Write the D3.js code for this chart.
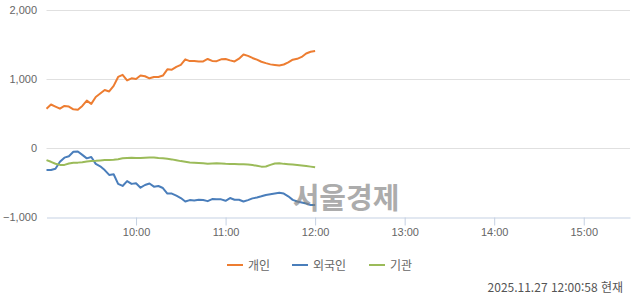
<!DOCTYPE html>
<html lang="ko">
<head>
<meta charset="UTF-8">
<title>투자자별 매매동향</title>
<style>
  body { margin: 0; background: #fff; }
  text { font-family: "Liberation Sans", "Noto Sans CJK KR", sans-serif; }
</style>
</head>
<body>
<div id="chart"></div>
<script src="https://d3js.org/d3.v7.min.js"></script>
<script>
// minutes since 09:00, sampled every 3 minutes up to 12:00
var times = ["09:00","09:03","09:06","09:09","09:12","09:15","09:18","09:21","09:24","09:27",
  "09:30","09:33","09:36","09:39","09:42","09:45","09:48","09:51","09:54","09:57",
  "10:00","10:03","10:06","10:09","10:12","10:15","10:18","10:21","10:24","10:27",
  "10:30","10:33","10:36","10:39","10:42","10:45","10:48","10:51","10:54","10:57",
  "11:00","11:03","11:06","11:09","11:12","11:15","11:18","11:21","11:24","11:27",
  "11:30","11:33","11:36","11:39","11:42","11:45","11:48","11:51","11:54","11:57","12:00"];

var individual = [570,630,600,570,610,600,560,555,610,686,
  640,740,790,840,820,900,1030,1060,980,1010,
  1000,1050,1040,1010,1030,1030,1050,1140,1135,1175,
  1205,1285,1260,1262,1255,1255,1290,1262,1258,1285,
  1290,1270,1255,1295,1355,1335,1305,1280,1250,1230,
  1212,1203,1195,1210,1240,1280,1292,1320,1370,1395,1405];

var foreign = [-320,-320,-300,-200,-140,-120,-55,-50,-100,-150,
  -130,-230,-265,-320,-390,-380,-520,-550,-480,-520,
  -510,-575,-536,-515,-560,-551,-580,-660,-660,-690,
  -725,-775,-755,-760,-750,-755,-770,-740,-744,-744,
  -765,-725,-750,-750,-775,-755,-730,-718,-700,-680,
  -670,-660,-650,-660,-700,-752,-775,-790,-805,-825,-826];

var institution = [-175,-200,-228,-245,-245,-225,-213,-212,-205,-195,
  -188,-185,-180,-174,-174,-170,-163,-150,-146,-142,
  -145,-145,-140,-137,-137,-145,-150,-157,-165,-178,
  -190,-200,-210,-214,-217,-222,-227,-225,-222,-226,
  -230,-232,-232,-234,-237,-240,-248,-258,-270,-268,
  -245,-225,-222,-230,-235,-240,-245,-252,-260,-270,-280];

var seriesNames = ["개인", "외국인", "기관"];
var seriesColors = ["#ed7d31", "#4a7ebb", "#9bbb59"];
var xTickLabels = ["10:00", "11:00", "12:00", "13:00", "14:00", "15:00"];
var yTicks = [-1000, 0, 1000, 2000];
var stamp = "2025.11.27 12:00:58 현재";
var watermark = "서울경제";

var width = 640, height = 294;

function toMin(t) {
  var p = t.split(":");
  return (+p[0] - 9) * 60 + (+p[1]);
}

var x = d3.scaleLinear().domain([0, 391]).range([46.5, 630]);
var y = d3.scaleLinear().domain([-1000, 2000]).range([217, 10]);

var svg = d3.select("#chart").append("svg")
  .attr("width", width)
  .attr("height", height);

// horizontal grid
svg.append("g")
  .selectAll("line")
  .data(yTicks.filter(d => d > -1000))
  .join("line")
  .attr("x1", x.range()[0]).attr("x2", x.range()[1])
  .attr("y1", d => Math.round(y(d)) + 0.5).attr("y2", d => Math.round(y(d)) + 0.5)
  .attr("stroke", "#e0e0e0");

// y labels
var yAxis = svg.append("g")
  .attr("transform", "translate(37,0)")
  .call(d3.axisLeft(y).tickValues(yTicks).tickSize(0).tickPadding(0).tickFormat(d3.format(",")));
yAxis.select(".domain").remove();
yAxis.selectAll("text")
  .attr("fill", "#666")
  .style("font-size", "11px");

// x axis
var xAxis = svg.append("g")
  .attr("transform", `translate(0,${Math.round(y(-1000)) + 0.5})`)
  .call(d3.axisBottom(x)
    .tickValues(xTickLabels.map(toMin))
    .tickFormat((d, i) => xTickLabels[i])
    .tickSize(8).tickSizeOuter(0).tickPadding(3));
xAxis.select(".domain").attr("stroke", "#c5d1e3").attr("stroke-width", 1.2);
xAxis.selectAll(".tick line").attr("stroke", "#c5d1e3");
xAxis.selectAll("text")
  .attr("fill", "#666")
  .style("font-size", "11px");

// lines
var line = d3.line()
  .x((d, i) => x(toMin(times[i])))
  .y(d => y(d));

[individual, foreign, institution].forEach((set, idx) => {
  svg.append("path")
    .datum(set)
    .attr("d", line)
    .attr("fill", "none")
    .attr("stroke", seriesColors[idx])
    .attr("stroke-width", 2)
    .attr("stroke-linejoin", "round");
});

// watermark
svg.append("text")
  .attr("x", 346).attr("y", 209)
  .attr("text-anchor", "middle")
  .style("font-family", "'Noto Sans CJK KR', sans-serif")
  .style("font-size", "29px")
  .style("font-weight", "bold")
  .attr("fill", "#808080")
  .attr("opacity", 0.65)
  .text(watermark);

// legend
var legendX = [227, 292, 369];
var legend = svg.append("g").selectAll("g")
  .data(seriesNames)
  .join("g")
  .attr("transform", (d, i) => `translate(${legendX[i]},265)`);
legend.append("line")
  .attr("x1", 0).attr("x2", 16)
  .attr("stroke", (d, i) => seriesColors[i])
  .attr("stroke-width", 2);
legend.append("text")
  .attr("x", 21).attr("y", 4.5)
  .style("font-family", "'Noto Sans CJK KR', sans-serif")
  .style("font-size", "12px")
  .attr("fill", "#666")
  .text(d => d);

// timestamp
svg.append("text")
  .attr("x", 623).attr("y", 292)
  .attr("text-anchor", "end")
  .style("font-family", "'Noto Sans CJK KR', sans-serif")
  .style("font-size", "12px")
  .attr("fill", "#555")
  .text(stamp);
</script>
</body>
</html>
